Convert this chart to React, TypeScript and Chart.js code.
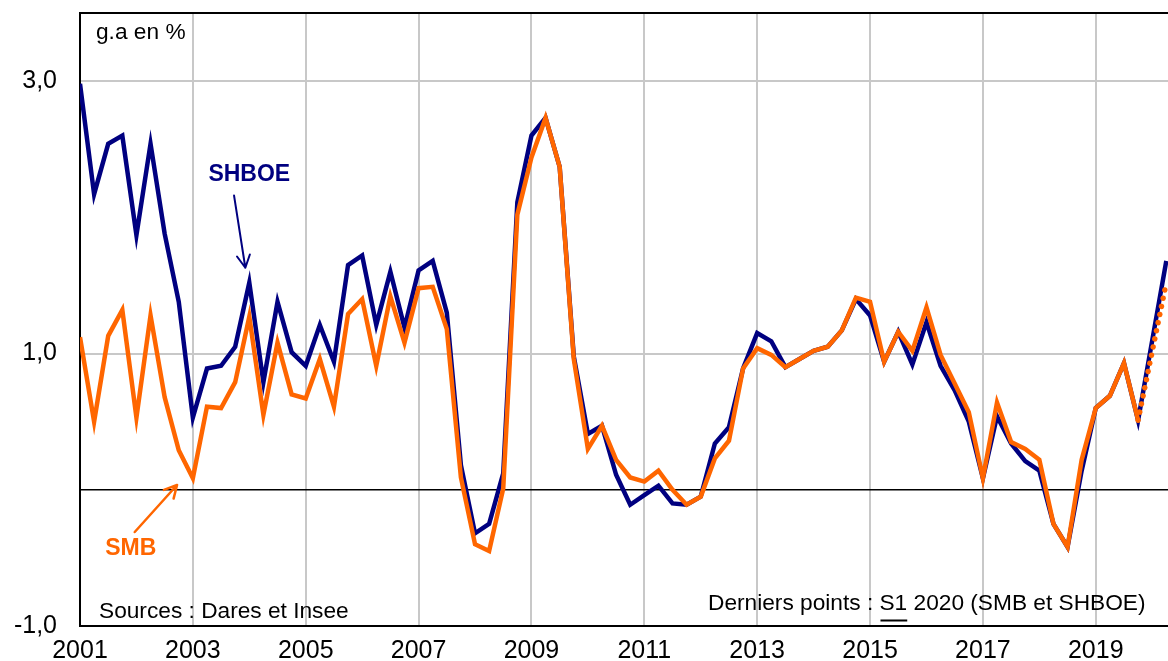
import React, { useEffect, useRef } from "react";
import { Chart, registerables } from "chart.js";

Chart.register(...registerables);

// Périodes : trimestres 2001T1 … 2019T4, puis S1 2020
const periodLabels: string[] = [];
for (let y = 2001; y <= 2019; y++) {
  for (let q = 1; q <= 4; q++) periodLabels.push(`${y}T${q}`);
}
periodLabels.push("2020S1");

const periodToX = (p: string): number => {
  const year = parseInt(p.slice(0, 4), 10);
  if (p[4] === "S") return year + 0.25; // semestre 1 placé au 2e trimestre
  return year + (parseInt(p.slice(5), 10) - 1) / 4;
};
const periods = periodLabels.map(periodToX);

// SHBOE (g.a en %)
const shboe = [
  2.98, 2.17, 2.54, 2.6, 1.87, 2.54, 1.88, 1.38,
  0.53, 0.89, 0.91, 1.05, 1.52, 0.79, 1.38, 1.01,
  0.91, 1.21, 0.94, 1.65, 1.72, 1.21, 1.6, 1.19,
  1.61, 1.68, 1.3, 0.18, -0.32, -0.25, 0.12, 2.11,
  2.6, 2.73, 2.37, 0.98, 0.41, 0.47, 0.11, -0.11,
  -0.04, 0.03, -0.1, -0.11, -0.05, 0.34, 0.46, 0.89,
  1.15, 1.09, 0.9, 0.96, 1.02, 1.05, 1.17, 1.4,
  1.28, 0.94, 1.16, 0.92, 1.23, 0.91, 0.73, 0.5,
  0.085, 0.54, 0.34, 0.21, 0.14, -0.25, -0.42, 0.14,
  0.6, 0.69, 0.93, 0.51,
  1.68,
];

// SMB (g.a en %)
const smb = [
  1.12, 0.5, 1.13, 1.32, 0.53, 1.28, 0.68, 0.29,
  0.085, 0.61, 0.6, 0.79, 1.27, 0.55, 1.08, 0.7,
  0.67, 0.96, 0.61, 1.29, 1.4, 0.91, 1.42, 1.08,
  1.48, 1.49, 1.18, 0.09, -0.4, -0.45, 0.01, 2.02,
  2.44, 2.73, 2.37, 0.96, 0.3, 0.47, 0.22, 0.09,
  0.06, 0.14, 0.0, -0.11, -0.05, 0.23, 0.36, 0.89,
  1.04, 0.99, 0.9, 0.96, 1.02, 1.05, 1.17, 1.41,
  1.38, 0.94, 1.16, 1.02, 1.34, 0.99, 0.78, 0.57,
  0.085, 0.64, 0.35, 0.3, 0.22, -0.25, -0.42, 0.22,
  0.6, 0.69, 0.93, 0.51,
  1.52,
];

const xTickYears = [2001, 2003, 2005, 2007, 2009, 2011, 2013, 2015, 2017, 2019];
const yTickValues = [-1, 1, 3];
const yMin = -1;
const yMax = 3.5;
const xMin = 2001;
const xMax = 2020.28;

const NAVY = "#000080";
const ORANGE = "#ff6600";
const GRID = "#c8c8c8";
const FONT = "'Liberation Sans', Arial, Helvetica, sans-serif";

function drawArrow(
  ctx: CanvasRenderingContext2D,
  x1: number, y1: number, x2: number, y2: number,
  color: string, width: number, head: number
) {
  const ang = Math.atan2(y2 - y1, x2 - x1);
  const spread = Math.PI / 6.5;
  ctx.save();
  ctx.strokeStyle = color;
  ctx.lineWidth = width;
  ctx.lineCap = "round";
  ctx.lineJoin = "round";
  ctx.beginPath();
  ctx.moveTo(x1, y1);
  ctx.lineTo(x2, y2);
  ctx.moveTo(x2 - head * Math.cos(ang - spread), y2 - head * Math.sin(ang - spread));
  ctx.lineTo(x2, y2);
  ctx.lineTo(x2 - head * Math.cos(ang + spread), y2 - head * Math.sin(ang + spread));
  ctx.stroke();
  ctx.restore();
}

const annotations = {
  id: "annotations",
  afterDatasetsDraw(chart: any) {
    const { ctx, scales } = chart;
    const xs = scales.x;
    const ys = scales.y;
    const px = (v: number) => xs.getPixelForValue(v);
    const py = (v: number) => ys.getPixelForValue(v);
    ctx.save();
    ctx.fillStyle = "#000";
    ctx.textAlign = "left";
    ctx.textBaseline = "alphabetic";
    ctx.font = `22.7px ${FONT}`;
    ctx.fillText("g.a en %", 96, 39);
    ctx.fillText("Sources : Dares et Insee", 99, 618);

    const prefix = "Derniers points : ";
    const s1 = "S1";
    const rest = " 2020 (SMB et SHBOE)";
    const x0 = 708;
    const by = 610;
    ctx.fillText(prefix, x0, by);
    const wPrefix = ctx.measureText(prefix).width;
    ctx.fillText(s1, x0 + wPrefix, by);
    const wS1 = ctx.measureText(s1).width;
    ctx.fillText(rest, x0 + wPrefix + wS1, by);
    ctx.fillRect(x0 + wPrefix + 1, by + 9.5, wS1 - 1, 2);

    ctx.font = `bold 23px ${FONT}`;
    ctx.textAlign = "center";
    ctx.textBaseline = "middle";
    ctx.fillStyle = NAVY;
    ctx.fillText("SHBOE", px(2004.0), py(2.31));
    ctx.fillStyle = ORANGE;
    ctx.fillText("SMB", px(2001.9), py(-0.43));
    ctx.restore();

    drawArrow(ctx, px(2003.73), py(2.16), px(2003.93), py(1.63), NAVY, 2, 14);
    drawArrow(ctx, px(2001.97), py(-0.31), px(2002.72), py(0.035), ORANGE, 2.5, 14);
  },
};

export default function App() {
  const ref = useRef<HTMLCanvasElement | null>(null);

  useEffect(() => {
    if (!ref.current) return;
    const last = periods.length - 1;
    const chart = new Chart(ref.current, {
      type: "line",
      data: {
        datasets: [
          {
            label: "SMB",
            data: periods.map((x, i) => ({ x, y: smb[i] })),
            borderColor: ORANGE,
            borderWidth: 4.5,
            pointRadius: 0,
            tension: 0,
            fill: false,
            borderJoinStyle: "miter",
            segment: {
              borderDash: (c: any) => (c.p1DataIndex === last ? [0.01, 8.3] : undefined),
              borderCapStyle: (c: any) => (c.p1DataIndex === last ? "round" : undefined),
              borderWidth: (c: any) => (c.p1DataIndex === last ? 5.5 : undefined),
            },
          } as any,
          {
            label: "SHBOE",
            data: periods.map((x, i) => ({ x, y: shboe[i] })),
            borderColor: NAVY,
            borderWidth: 4.5,
            pointRadius: 0,
            tension: 0,
            fill: false,
            borderJoinStyle: "miter",
          } as any,
        ],
      },
      options: {
        responsive: false,
        animation: false,
        devicePixelRatio: 1,
        layout: { padding: { top: 13, left: 0, right: 0, bottom: 0 } },
        plugins: {
          legend: { display: false },
          tooltip: { enabled: false },
          title: { display: false },
        },
        scales: {
          x: {
            type: "linear",
            min: xMin,
            max: xMax,
            afterBuildTicks: (s: any) => {
              s.ticks = xTickYears.map((v) => ({ value: v }));
            },
            afterFit: (s: any) => {
              s.height = 35;
              s.paddingLeft = 0;
              s.paddingRight = 0;
            },
            ticks: {
              autoSkip: false,
              maxRotation: 0,
              minRotation: 0,
              padding: 10,
              color: "#000",
              font: { family: FONT, size: 25 },
              callback: (v: any) => String(v),
            },
            grid: {
              drawTicks: false,
              color: (c: any) => (c.tick && c.tick.value === xMin ? "#000" : GRID),
              lineWidth: 2,
            },
            border: { display: true, color: "#000", width: 2 },
          },
          y: {
            type: "linear",
            min: yMin,
            max: yMax,
            afterBuildTicks: (s: any) => {
              s.ticks = [...yTickValues, 0, yMax]
                .sort((a, b) => a - b)
                .map((v) => ({ value: v }));
            },
            afterFit: (s: any) => {
              s.width = 80;
              s.paddingTop = 0;
              s.paddingBottom = 0;
            },
            ticks: {
              autoSkip: false,
              padding: 23,
              color: "#000",
              font: { family: FONT, size: 25 },
              callback: (v: any) =>
                yTickValues.includes(v) ? Number(v).toFixed(1).replace(".", ",") : "",
            },
            grid: {
              drawTicks: false,
              color: (c: any) => {
                const v = c.tick ? c.tick.value : null;
                if (v === 0 || v === yMax || v === yMin) return "#000";
                return GRID;
              },
              lineWidth: (c: any) => {
                const v = c.tick ? c.tick.value : null;
                if (v === 0) return 1.5;
                return 2;
              },
            },
            border: { display: true, color: "#000", width: 2 },
          },
        },
      },
      plugins: [annotations],
    });
    return () => chart.destroy();
  }, []);

  return (
    <div
      style={{
        position: "absolute",
        left: 0,
        top: 0,
        width: 1168,
        height: 661,
        background: "#fff",
        overflow: "hidden",
      }}
    >
      <canvas ref={ref} width={1168} height={661} style={{ display: "block" }} />
    </div>
  );
}
